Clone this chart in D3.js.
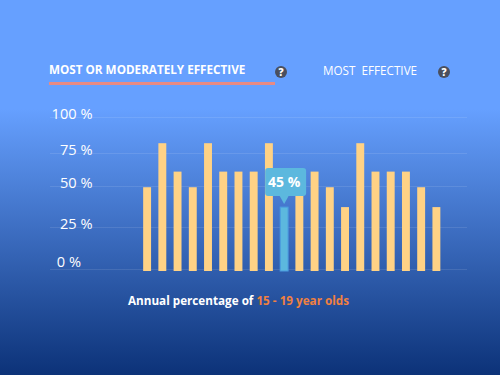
<!DOCTYPE html>
<html>
<head>
<meta charset="utf-8">
<script src="https://cdnjs.cloudflare.com/ajax/libs/d3/7.8.5/d3.min.js"></script>
<style>
  html, body { margin: 0; padding: 0; }
  svg { display: block; }
  text { font-family: "Open Sans", sans-serif; }
</style>
</head>
<body>
<svg id="chart" width="500" height="375"></svg>
<script>
const years = d3.range(1, 21).map(String);
const percents = [59, 90, 70, 59, 90, 70, 70, 70, 90, 45, 70, 70, 59, 45, 90, 70, 70, 70, 59, 45];
const tickValues = [0, 25, 50, 75, 100];
const activeIndex = 9;

const width = 500, height = 375;
const svg = d3.select("#chart");

// background
const grad = svg.append("defs").append("linearGradient")
  .attr("id", "bg").attr("x1", 0).attr("x2", 0).attr("y1", 0).attr("y2", 1);
grad.append("stop").attr("offset", "0.29").attr("stop-color", "#66a0ff");
grad.append("stop").attr("offset", "1").attr("stop-color", "#0c3278");
svg.append("rect").attr("width", width).attr("height", height).attr("fill", "url(#bg)");

// the grid in the picture is not evenly spaced, and the bars don't follow it
const gridY = d3.scaleLinear().domain(tickValues).range([269, 227, 186, 153, 117]);
const barY = d3.scaleLinear().domain([0, 100]).range([271, 129]);
const x = d3.scaleBand().domain(years).range([139.5, 444]).paddingInner(0.48).paddingOuter(0.24);

// tabs
svg.append("text").attr("x", 49).attr("y", 74)
  .attr("fill", "#fff").attr("font-size", 11.7).attr("font-weight", 700)
  .text("MOST OR MODERATELY EFFECTIVE");
svg.append("rect").attr("x", 49).attr("y", 82).attr("width", 226).attr("height", 3).attr("fill", "#e88a84");
svg.append("text").attr("x", 323).attr("y", 75)
  .attr("fill", "#fff").attr("font-size", 11.7).attr("font-weight", 400)
  .style("white-space", "pre")
  .text("MOST  EFFECTIVE");

[281, 444].forEach(function(cx) {
  svg.append("circle").attr("cx", cx).attr("cy", 72).attr("r", 6).attr("fill", "#4a4f5e");
  svg.append("text").attr("x", cx).attr("y", 75.5).attr("text-anchor", "middle")
    .attr("fill", "#fff").attr("font-size", 10).attr("font-weight", 800).text("?");
});

// axis
const axis = svg.append("g").attr("transform", "translate(50,0)")
  .call(d3.axisRight(gridY).tickValues(tickValues).tickSize(417).tickFormat(d => d + " %"));
axis.select(".domain").remove();
axis.selectAll(".tick line").attr("stroke", "#fff").attr("stroke-opacity", 0.1);
axis.selectAll(".tick text")
  .attr("x", d => d === 0 ? 31 : 42.5)
  .attr("dy", d => d === 0 ? -3 : 1)
  .attr("text-anchor", "end")
  .attr("fill", "#fff")
  .attr("font-size", 14.6)
  .attr("font-weight", 400)
  .attr("font-family", "'Open Sans', sans-serif");

// bars
svg.append("g").selectAll("rect").data(percents).enter().append("rect")
  .attr("x", (d, i) => x(years[i]))
  .attr("y", d => barY(d))
  .attr("width", x.bandwidth())
  .attr("height", d => barY(0) - barY(d))
  .attr("fill", (d, i) => i === activeIndex ? "#5cb8de" : "#ffd285")
  .attr("stroke", (d, i) => i === activeIndex ? "#4a9be0" : "none");

// tooltip
const tipX = x(years[activeIndex]) + x.bandwidth() / 2;
const tip = svg.append("g").attr("transform", `translate(${tipX},${barY(percents[activeIndex]) - 11})`);
tip.append("path")
  .attr("d", "M-5,-1 L0,8 L5,-1 Z")
  .attr("fill", "#5cb8de");
tip.append("rect").attr("x", -19).attr("y", -28).attr("width", 41).attr("height", 28).attr("rx", 3)
  .attr("fill", "#5cb8de");
tip.append("text").attr("x", 0).attr("y", -9).attr("text-anchor", "middle")
  .attr("fill", "#fff").attr("font-size", 14).attr("font-weight", 700)
  .text(percents[activeIndex] + " %");

// caption
const caption = svg.append("text").attr("x", 238.5).attr("y", 305).attr("text-anchor", "middle")
  .attr("fill", "#fff").attr("font-size", 11.7).attr("font-weight", 700);
caption.append("tspan").text("Annual percentage of ");
caption.append("tspan").attr("fill", "#f08040").text("15 - 19 year olds");
</script>
</body>
</html>
